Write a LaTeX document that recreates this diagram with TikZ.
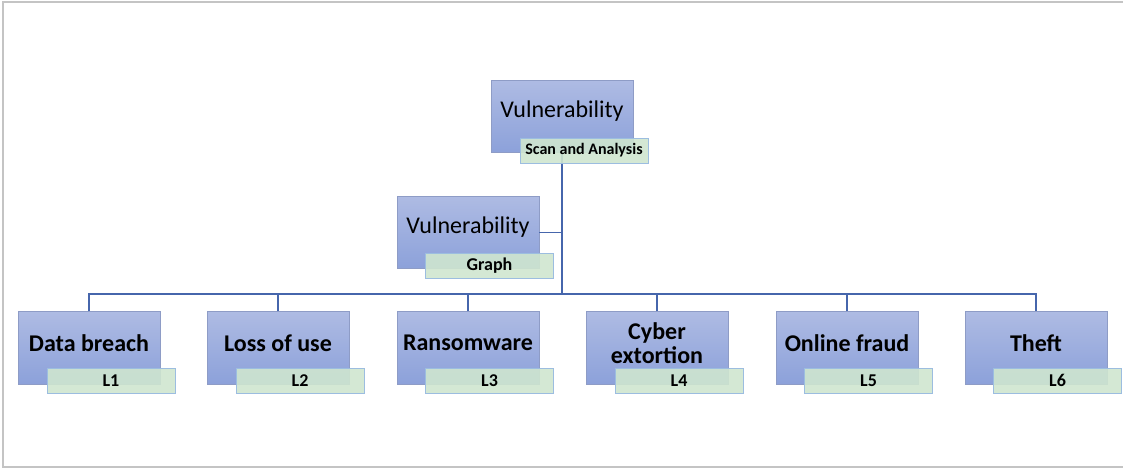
\documentclass[tikz,border=0pt]{standalone}
\usepackage{fontspec}
\setmainfont{Carlito}
\definecolor{boxtop}{HTML}{AEBBE3}
\definecolor{boxbot}{HTML}{8CA1DA}
\definecolor{boxline}{HTML}{8E9CC6}
\definecolor{lblfill}{HTML}{CFE6CF}
\definecolor{lblline}{HTML}{9CBDE0}
\definecolor{conn}{HTML}{4666AC}
\definecolor{frame}{HTML}{C4C4C4}
\tikzset{
  bluebox/.style={rectangle, draw=boxline, line width=0.6pt, top color=boxtop, bottom color=boxbot,
    minimum width=106.5pt, minimum height=54.5pt, inner sep=0pt},
  boxtext/.style={font=\fontsize{18pt}{19.5pt}\selectfont, align=center, inner sep=0pt, text=black},
  greenlbl/.style={rectangle, draw=lblline, line width=0.6pt, fill=lblfill, fill opacity=0.9, text opacity=1,
    minimum width=96pt, minimum height=18.75pt, inner sep=0pt, font=\bfseries\fontsize{13.5pt}{14pt}\selectfont},
  link/.style={draw=conn, line width=1.1pt}
}
\begin{document}
\begin{tikzpicture}[x=0.75pt,y=-0.75pt]
\useasboundingbox (0,0) rectangle (1123,469);
% frame
\draw[frame, line width=1.5pt] (1123,2) -- (3,2) -- (3,467) -- (1123,467);
% top box
\node[bluebox] (top) at (562,116.5) {};
\node[boxtext] (toptxt) at (562,111) {Vulnerability};
% graph box
\node[bluebox] (mid) at (468,232.5) {};
\node[boxtext] (midtxt) at (468,227) {Vulnerability};
% bus coordinate
\coordinate (bus) at (562,294);
% bottom boxes
\foreach \i/\x/\t in {1/89/Data breach, 2/278/Loss of use, 3/468/Ransomware, 4/657/{Cyber\\[-2pt]extortion}, 5/847/Online fraud, 6/1036/Theft}{
  \node[bluebox] (b\i) at (\x,348) {};
  \node[boxtext, font=\bfseries\fontsize{18pt}{19.5pt}\selectfont] (bt\i) at (\x,343) {\t};
}
% connectors
\draw[link] (top.south) -- (bus);
\draw[link] (mid.east) -- (mid.east -| top.south);
\draw[link] (b1.north) |- (bus) -| (b6.north);
\foreach \i in {2,3,4,5}{
  \draw[link] (b\i.north) -- (b\i.north |- bus);
}
% green labels
\node[greenlbl, font=\bfseries\fontsize{12pt}{13pt}\selectfont] (topl) at (584,150.5) {Scan and Analysis};
\node[greenlbl] (midl) at (489.5,265.5) {Graph};
\foreach \i/\x in {1/111, 2/300, 3/489.5, 4/679, 5/868.5, 6/1057.5}{
  \node[greenlbl] (l\i) at (\x,380.5) {L\i};
}
\end{tikzpicture}
\end{document}
